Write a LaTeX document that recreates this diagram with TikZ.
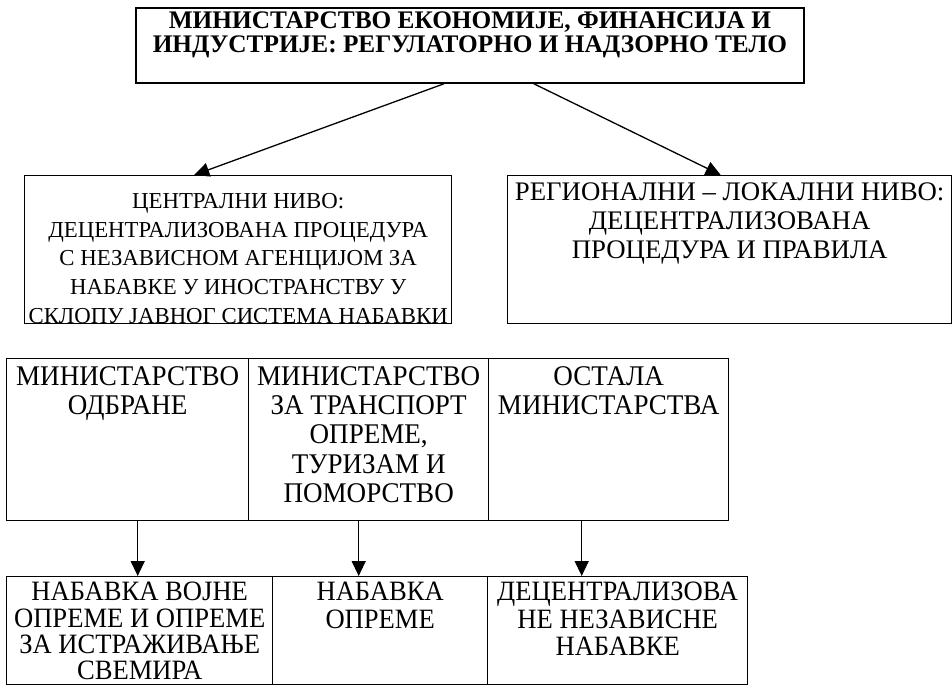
\documentclass[tikz,border=0pt]{standalone}
\usepackage{fontspec}
\setmainfont{Liberation Serif}
\newfontfamily\tallrm{Liberation Serif}[FakeStretch=0.95]
\usetikzlibrary{arrows.meta}
\tikzset{
  box/.style={draw, line width=1.4pt, anchor=north west, inner sep=0pt},
  txt/.style={anchor=north, align=center, inner sep=0pt, font=\tallrm\fontsize{28.5}{29.4}\selectfont},
  arr/.style={-{Triangle[width=14pt,length=15pt]}, line width=1.3pt},
}
\begin{document}
\begin{tikzpicture}[x=1pt,y=-1pt]
\useasboundingbox (0,0) rectangle (952,688);
%Top level
\node[box, line width=1.8pt, minimum width=668pt, minimum height=75pt] (ministry) at (135,7) {};
\node[txt, font=\bfseries\fontsize{25.3}{24}\selectfont] (ministryt) at ([yshift=-5pt]ministry.north)
  {МИНИСТАРСТВО ЕКОНОМИЈЕ, ФИНАНСИЈА И\\ИНДУСТРИЈЕ: РЕГУЛАТОРНО И НАДЗОРНО ТЕЛО};
%Second level
\node[box, minimum width=427pt, minimum height=148pt] (central) at (24,175) {};
\node[txt, font=\fontsize{22.8}{28.7}\selectfont] (centralt) at ([yshift=-18pt]central.north)
  {ЦЕНТРАЛНИ НИВО:\\ДЕЦЕНТРАЛИЗОВАНА ПРОЦЕДУРА\\С НЕЗАВИСНОМ АГЕНЦИЈОМ ЗА\\НАБАВКЕ У ИНОСТРАНСТВУ У\\СКЛОПУ ЈАВНОГ СИСТЕМА НАБАВКИ};
\node[box, minimum width=444pt, minimum height=148pt] (regional) at (507,175) {};
\node[txt, font=\fontsize{26.8}{29}\selectfont] (regionalt) at ([yshift=-8pt]regional.north)
  {РЕГИОНАЛНИ – ЛОКАЛНИ НИВО:\\ДЕЦЕНТРАЛИЗОВАНА\\ПРОЦЕДУРА И ПРАВИЛА};
%Ministries
\node[box, minimum width=242pt, minimum height=162pt] (defence) at (6,358) {};
\node[box, minimum width=240pt, minimum height=162pt] (transport) at (248,358) {};
\node[box, minimum width=240pt, minimum height=162pt] (other) at (488,358) {};
\node[txt] (defencet) at ([yshift=-8pt]defence.north) {МИНИСТАРСТВО\\ОДБРАНЕ};
\node[txt] (transportt) at ([yshift=-8pt]transport.north) {МИНИСТАРСТВО\\ЗА ТРАНСПОРТ\\ОПРЕМЕ,\\ТУРИЗАМ И\\ПОМОРСТВО};
\node[txt] (othert) at ([yshift=-8pt]other.north) {ОСТАЛА\\МИНИСТАРСТВА};
%Procurement
\node[box, minimum width=266pt, minimum height=108pt] (military) at (6,576) {};
\node[box, minimum width=215pt, minimum height=108pt] (equipment) at (272,576) {};
\node[box, minimum width=260pt, minimum height=108pt] (decentral) at (487,576) {};
\node[txt, font=\tallrm\fontsize{28}{26.3}\selectfont] (militaryt) at ([yshift=-6pt]military.north) {НАБАВКА ВОЈНЕ\\ОПРЕМЕ И ОПРЕМЕ\\ЗА ИСТРАЖИВАЊЕ\\СВЕМИРА};
\node[txt, font=\tallrm\fontsize{28}{27.5}\selectfont] (equipmentt) at ([yshift=-6pt]equipment.north) {НАБАВКА\\ОПРЕМЕ};
\node[txt, font=\tallrm\fontsize{28}{27.5}\selectfont] (decentralt) at ([yshift=-6pt]decentral.north) {ДЕЦЕНТРАЛИЗОВА\\НЕ НЕЗАВИСНЕ\\НАБАВКЕ};
%Drawing arrows
\draw[arr] ([xshift=-26pt]ministry.south) -- ([xshift=-44pt]central.north);
\draw[arr] ([xshift=64pt]ministry.south) -- ([xshift=-9pt]regional.north);
\draw[arr] ([xshift=10pt]defence.south) -- ([xshift=10pt]defence.south |- military.north);
\draw[arr] ([xshift=-10pt]transport.south) -- ([xshift=-10pt]transport.south |- equipment.north);
\draw[arr] ([xshift=-27pt]other.south) -- ([xshift=-27pt]other.south |- decentral.north);
\end{tikzpicture}
\end{document}
